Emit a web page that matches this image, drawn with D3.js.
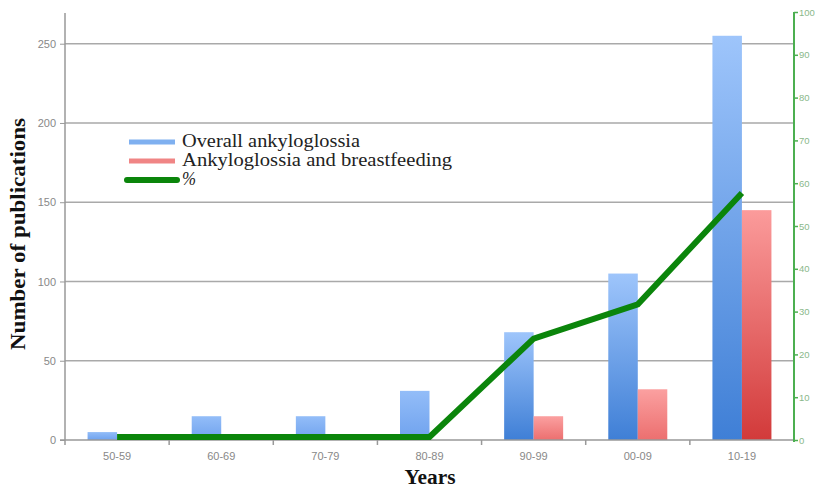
<!DOCTYPE html>
<html><head><meta charset="utf-8">
<script src="https://cdn.jsdelivr.net/npm/d3@7"></script>
<style>body{margin:0;background:#fff}svg{display:block}</style>
</head><body>
<svg id="c" width="815" height="487"></svg>
<script>
const categories = ["50-59","60-69","70-79","80-89","90-99","00-09","10-19"];
const overall = [5,15,15,31,68,105,255];
const breastfeeding = [0,0,0,0,15,32,145];
const percent = [0,0,0,0,23,31,57];
const leftTicks = [0,50,100,150,200,250];
const rightTicks = [0,10,20,30,40,50,60,70,80,90,100];

const svg = d3.select("#c");
const L = 65, R = 794, T = 12, B = 440;
const x = d3.scaleBand().domain(categories).range([L,R]);
const yL = d3.scaleLinear().domain([0,270]).range([B,T]);
const yR = d3.scaleLinear().domain([0,100]).range([B,T]);

const defs = svg.append("defs");
function grad(id, top, bot){
  const g = defs.append("linearGradient").attr("id",id).attr("x1",0).attr("y1",0).attr("x2",0).attr("y2",1);
  g.append("stop").attr("offset","0%").attr("stop-color",top);
  g.append("stop").attr("offset","100%").attr("stop-color",bot);
}
grad("gb","#9ec5fb","#3f7fd6");
grad("gbs","#93bdf8","#6fa2ee");
grad("gr","#fb9b9b","#d23a3a");
grad("grs","#fba0a0","#ec6f6f");

// gridlines
svg.append("g").selectAll("line").data(leftTicks.filter(d=>d>0)).join("line")
  .attr("x1",L).attr("x2",R).attr("y1",d=>yL(d)).attr("y2",d=>yL(d))
  .attr("stroke","#a9a9a9").attr("stroke-width",1.5);

// bars
const bw = 29.5;
svg.append("g").selectAll("rect").data(overall).join("rect")
  .attr("x",(d,i)=>x(categories[i])+x.bandwidth()/2-bw)
  .attr("width",bw).attr("y",d=>yL(d)).attr("height",d=>B-yL(d))
  .attr("fill",d=>d<50?"url(#gbs)":"url(#gb)");
svg.append("g").selectAll("rect").data(breastfeeding).join("rect")
  .attr("x",(d,i)=>x(categories[i])+x.bandwidth()/2)
  .attr("width",bw).attr("y",d=>yL(d)).attr("height",d=>B-yL(d))
  .attr("fill",d=>d<50?"url(#grs)":"url(#gr)");

// left axis
const la = svg.append("g").attr("transform",`translate(${L},0)`)
  .call(d3.axisLeft(yL).tickValues(leftTicks).tickSize(5).tickPadding(4));
la.select(".domain").attr("d",`M0,${T+1}V${B+5}`).attr("stroke","#999").attr("stroke-width",1.5);
la.selectAll(".tick line").attr("stroke","#999");
la.selectAll("text").attr("font-family","Liberation Sans, Arial").attr("font-size",11).attr("fill","#888");

// x axis
const xa = svg.append("g").attr("transform",`translate(0,${B})`)
  .call(d3.axisBottom(x).tickSize(0).tickPadding(12));
xa.select(".domain").attr("d",`M${L-5},0H${R}`).attr("stroke","#999").attr("stroke-width",1.5);
xa.selectAll("text").attr("font-family","Liberation Sans, Arial").attr("font-size",11).attr("fill","#888");
xa.append("g").selectAll("line").data(categories.slice(1)).join("line")
  .attr("x1",d=>x(d)).attr("x2",d=>x(d)).attr("y1",0).attr("y2",5).attr("stroke","#999").attr("stroke-width",1.5);

// right axis
const ra = svg.append("g").attr("transform",`translate(${R},0)`)
  .call(d3.axisRight(yR).tickValues(rightTicks).tickSize(4).tickPadding(1));
ra.select(".domain").attr("d",`M0,${T}V${B+2}`).attr("stroke","#4caf50").attr("stroke-width",2);
ra.selectAll(".tick line").attr("stroke","#4caf50").attr("stroke-width",1.5);
ra.selectAll("text").attr("font-family","Liberation Sans, Arial").attr("font-size",9.5).attr("fill","#8ab88a");

// line
svg.append("path").datum(percent)
  .attr("d",d3.line().x((d,i)=>x(categories[i])+x.bandwidth()/2).y(d=>yR(d)-3))
  .attr("fill","none").attr("stroke","#0b850b").attr("stroke-width",6).attr("stroke-linejoin","miter");

// titles
svg.append("text").attr("transform","translate(25,234) rotate(-90)").attr("text-anchor","middle")
  .attr("font-family","Liberation Serif, serif").attr("font-weight","bold").attr("font-size",20).attr("fill","#111")
  .attr("textLength",232).attr("lengthAdjust","spacingAndGlyphs")
  .text("Number of publications");
svg.append("text").attr("x",430).attr("y",484).attr("text-anchor","middle")
  .attr("font-family","Liberation Serif, serif").attr("font-weight","bold").attr("font-size",20).attr("fill","#111")
  .attr("textLength",51).attr("lengthAdjust","spacingAndGlyphs")
  .text("Years");

// legend
const leg = [
  {name:"Overall ankyloglossia", color:"#7fb0f0", w:5, len:178},
  {name:"Ankyloglossia and breastfeeding", color:"#f08585", w:5, len:270},
  {name:"%", color:"#0b850b", w:6, len:14}
];
const lg = svg.append("g").selectAll("g").data(leg).join("g")
  .attr("transform",(d,i)=>`translate(127,${142+i*19})`);
lg.append("line").attr("x1",(d,i)=>i==2?0:2).attr("x2",(d,i)=>i==2?50:48).attr("y1",0).attr("y2",0)
  .attr("stroke",d=>d.color).attr("stroke-width",d=>d.w).attr("stroke-linecap",(d,i)=>i==2?"round":"butt");
lg.append("text").attr("x",55).attr("y",5).attr("font-family","Liberation Serif, serif").attr("font-size",18.5).attr("fill","#222")
  .attr("font-style",(d,i)=>i==2?"italic":"normal")
  .attr("textLength",d=>d.len).attr("lengthAdjust","spacingAndGlyphs").text(d=>d.name);
</script>
</body></html>
